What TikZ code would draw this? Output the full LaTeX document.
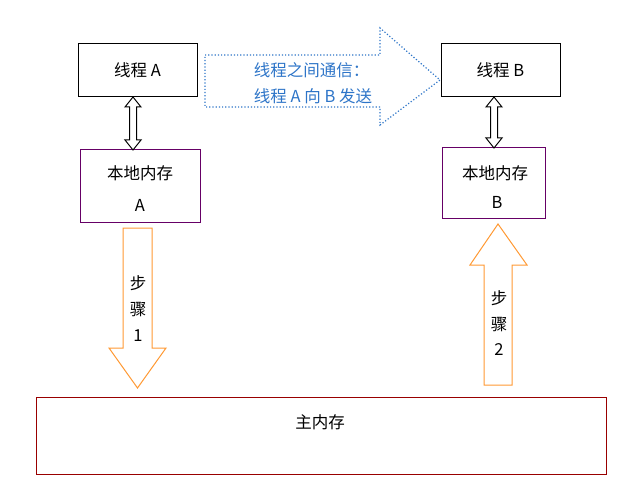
\documentclass[tikz,border=0pt]{standalone}
\usepackage{fontspec}
\setmainfont{Noto Sans CJK SC}
\definecolor{cblue}{RGB}{46,117,200}
\begin{document}
\begin{tikzpicture}[x=1pt,y=-1pt,font=\fontsize{16.5}{26}\selectfont,
 thr/.style={draw=black,line width=1pt,minimum width=119pt,minimum height=53pt,inner sep=0},
 mem/.style={draw=violet!80!black,line width=1pt,inner sep=0,align=center},
 oarr/.style={draw=orange!80,line width=1pt,fill=white},
 dbl/.style={draw=black,line width=1pt,fill=white}]
\useasboundingbox (0,0) rectangle (643,492);
\node[thr] (ta) at (137.5,70.5) {线程 A};
\node[thr] (tb) at (500.5,70.5) {线程 B};
\node[mem,minimum width=120pt,minimum height=72pt] (ma) at (140,186) {};
\node at (140,173) {本地内存};
\node at (140,205) {A};
\node[mem,minimum width=103pt,minimum height=70pt] (mb) at (493.5,183) {};
\node at (495,173) {本地内存};
\node at (497,202) {B};
\node[draw=red!60!black,line width=1pt,minimum width=570pt,minimum height=77pt,inner sep=0] (mm) at (321,435.5) {};
\node at (320,422) {主内存};
% dotted communication arrow
\draw[cblue,dotted,line width=1.2pt] (205,55) -- (380,55) -- (380,28) -- (440,80) -- (380,125) -- (380,107) -- (205,107) -- cycle;
\node[text=cblue,align=left] (txt) at (313,83) {线程之间通信：\\线程 A 向 B 发送};
% double arrows
\foreach \xx/\ya/\yb in {133/97/150,494/97/148}{
\draw[dbl] (\xx,\ya) -- (\xx+8,\ya+10) -- (\xx+3.5,\ya+10) -- (\xx+3.5,\yb-10) -- (\xx+8,\yb-10) -- (\xx,\yb) -- (\xx-8,\yb-10) -- (\xx-3.5,\yb-10) -- (\xx-3.5,\ya+10) -- (\xx-8,\ya+10) -- cycle;}
% orange arrows
\draw[oarr] (123,228) -- (152,228) -- (152,348) -- (166,348) -- (137.5,388) -- (109,348) -- (123,348) -- cycle;
\draw[oarr] (484,385) -- (512,385) -- (512,265) -- (527,265) -- (498,224) -- (470,265) -- (484,265) -- cycle;
\node (s1) at (138,283) {步}; \node at (138,310) {骤}; \node at (138,336) {1};
\node (s2) at (499,298) {步}; \node at (499,325) {骤}; \node at (499,350) {2};
\end{tikzpicture}
\end{document}
